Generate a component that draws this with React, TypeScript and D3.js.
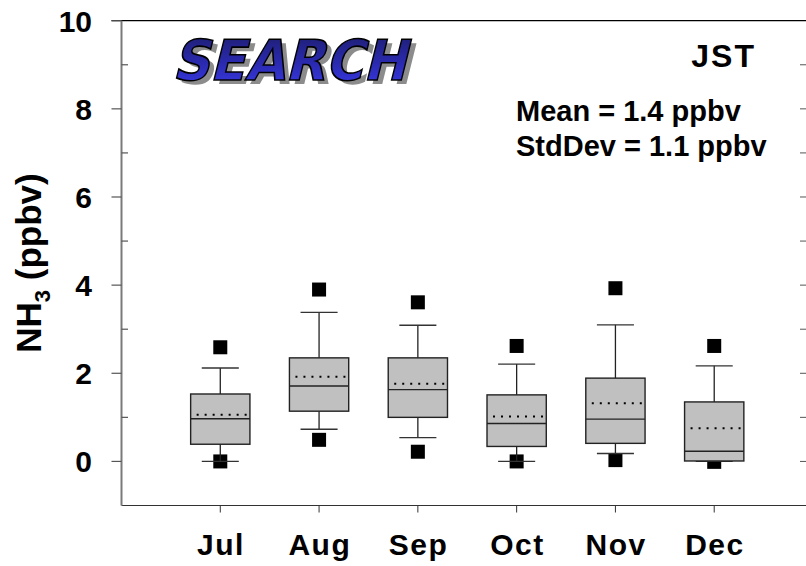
import { useEffect, useRef } from "react";
import * as d3 from "d3";

// monthly NH3 box statistics (ppbv)
const months = ["Jul", "Aug", "Sep", "Oct", "Nov", "Dec"];
const whiskerHigh = [2.12, 3.38, 3.09, 2.21, 3.1, 2.17];
const q3 = [1.53, 2.35, 2.35, 1.51, 1.89, 1.35];
const means = [1.06, 1.92, 1.76, 1.02, 1.32, 0.75];
const medians = [0.97, 1.71, 1.63, 0.86, 0.96, 0.23];
const q1 = [0.39, 1.14, 1.0, 0.34, 0.41, 0.01];
const whiskerLow = [0.0, 0.73, 0.54, 0.0, 0.18, 0.0];
const outlierHigh = [2.59, 3.9, 3.61, 2.62, 3.93, 2.62];
const outlierLow = [0.0, 0.49, 0.22, 0.0, 0.03, -0.01];

const yTicks = [0, 2, 4, 6, 8, 10];
const yMinor = [1, 3, 5, 7, 9];

const FONT = "'Liberation Sans', Arial, sans-serif";

export default function App() {
  const svgRef = useRef<SVGSVGElement | null>(null);

  useEffect(() => {
    if (!svgRef.current) return;
    const svg = d3.select(svgRef.current);
    svg.selectAll("*").remove();

    const x = d3.scaleLinear().domain([0, 7]).range([121.5, 813]);
    const y = d3.scaleLinear().domain([-1, 10]).range([505.5, 20.7]);
    const ux = x(1) - x(0);
    const boxW = ux * 0.6;
    const capW = ux * 0.375;
    const sq = 14;

    const data = months.map((m, i) => ({
      m,
      i: i + 1,
      hi: whiskerHigh[i],
      q3: q3[i],
      mean: means[i],
      med: medians[i],
      q1: q1[i],
      lo: whiskerLow[i],
      oHi: outlierHigh[i],
      oLo: outlierLow[i],
    }));

    // frame: top border, right axis (off canvas), bottom axis
    svg
      .append("line")
      .attr("x1", x(0) - 10)
      .attr("x2", x(7))
      .attr("y1", y(10))
      .attr("y2", y(10))
      .attr("stroke", "#000")
      .attr("stroke-width", 1.2);

    svg
      .append("line")
      .attr("x1", x(0))
      .attr("x2", x(7))
      .attr("y1", y(-1))
      .attr("y2", y(-1))
      .attr("stroke", "#333")
      .attr("stroke-width", 1.2);

    svg
      .append("line")
      .attr("x1", x(7))
      .attr("x2", x(7))
      .attr("y1", y(10))
      .attr("y2", y(-1))
      .attr("stroke", "#555")
      .attr("stroke-width", 1.5);

    svg
      .append("g")
      .selectAll("line")
      .data(d3.range(0, 10))
      .enter()
      .append("line")
      .attr("x1", x(7) - 13)
      .attr("x2", x(7))
      .attr("y1", (d) => y(d))
      .attr("y2", (d) => y(d))
      .attr("stroke", "#555")
      .attr("stroke-width", 1);

    // left axis
    const left = svg.append("g");
    left
      .append("line")
      .attr("x1", x(0))
      .attr("x2", x(0))
      .attr("y1", y(10))
      .attr("y2", y(-1))
      .attr("stroke", "#7a7a7a")
      .attr("stroke-width", 2);

    left
      .selectAll(".major")
      .data(yTicks)
      .enter()
      .append("line")
      .attr("x1", x(0) - 10)
      .attr("x2", x(0))
      .attr("y1", (d) => y(d))
      .attr("y2", (d) => y(d))
      .attr("stroke", "#555")
      .attr("stroke-width", 1.2);

    left
      .selectAll(".minor")
      .data(yMinor)
      .enter()
      .append("line")
      .attr("x1", x(0))
      .attr("x2", x(0) + 6.5)
      .attr("y1", (d) => y(d))
      .attr("y2", (d) => y(d))
      .attr("stroke", "#555")
      .attr("stroke-width", 1.2);

    left
      .selectAll("text")
      .data(yTicks)
      .enter()
      .append("text")
      .attr("x", 92)
      .attr("y", (d) => y(d))
      .attr("dy", "0.36em")
      .attr("text-anchor", "end")
      .attr("font-family", FONT)
      .attr("font-weight", "bold")
      .attr("font-size", 30)
      .text((d) => d);

    // bottom ticks + month labels
    const bottom = svg.append("g");
    bottom
      .selectAll("line")
      .data(data)
      .enter()
      .append("line")
      .attr("x1", (d) => x(d.i))
      .attr("x2", (d) => x(d.i))
      .attr("y1", y(-1))
      .attr("y2", y(-1) + 7)
      .attr("stroke", "#333")
      .attr("stroke-width", 1);

    bottom
      .selectAll("text")
      .data(data)
      .enter()
      .append("text")
      .attr("x", (d) => x(d.i) + 0.75)
      .attr("y", 555)
      .attr("text-anchor", "middle")
      .attr("font-family", FONT)
      .attr("font-weight", "bold")
      .attr("font-size", 30)
      .attr("letter-spacing", 1.5)
      .text((d) => d.m);

    // outliers first (boxes drawn over them)
    const marks = svg.append("g");
    marks
      .selectAll(".oh")
      .data(data)
      .enter()
      .append("rect")
      .attr("x", (d) => x(d.i) - sq / 2)
      .attr("y", (d) => y(d.oHi) - sq / 2)
      .attr("width", sq)
      .attr("height", sq)
      .attr("fill", "#000");

    marks
      .selectAll(".ol")
      .data(data)
      .enter()
      .append("rect")
      .attr("x", (d) => x(d.i) - sq / 2)
      .attr("y", (d) => y(d.oLo) - sq / 2)
      .attr("width", sq)
      .attr("height", sq)
      .attr("fill", "#000");

    const box = svg
      .append("g")
      .selectAll("g")
      .data(data)
      .enter()
      .append("g");

    // whiskers
    box
      .append("line")
      .attr("x1", (d) => x(d.i))
      .attr("x2", (d) => x(d.i))
      .attr("y1", (d) => y(d.q3))
      .attr("y2", (d) => y(d.hi))
      .attr("stroke", "#222")
      .attr("stroke-width", 1.3);
    box
      .append("line")
      .attr("x1", (d) => x(d.i))
      .attr("x2", (d) => x(d.i))
      .attr("y1", (d) => y(d.q1))
      .attr("y2", (d) => y(d.lo))
      .attr("stroke", "#222")
      .attr("stroke-width", 1.3);
    box
      .append("line")
      .attr("x1", (d) => x(d.i) - capW / 2)
      .attr("x2", (d) => x(d.i) + capW / 2)
      .attr("y1", (d) => y(d.hi))
      .attr("y2", (d) => y(d.hi))
      .attr("stroke", "#333")
      .attr("stroke-width", 1.3);
    box
      .append("line")
      .attr("x1", (d) => x(d.i) - capW / 2)
      .attr("x2", (d) => x(d.i) + capW / 2)
      .attr("y1", (d) => y(d.lo))
      .attr("y2", (d) => y(d.lo))
      .attr("stroke", "#333")
      .attr("stroke-width", 1.3);

    box
      .append("rect")
      .attr("x", (d) => x(d.i) - boxW / 2)
      .attr("y", (d) => y(d.q3))
      .attr("width", boxW)
      .attr("height", (d) => y(d.q1) - y(d.q3))
      .attr("fill", "#c0c0c0")
      .attr("stroke", "#222")
      .attr("stroke-width", 1.4);

    box
      .append("line")
      .attr("x1", (d) => x(d.i) - boxW / 2)
      .attr("x2", (d) => x(d.i) + boxW / 2)
      .attr("y1", (d) => y(d.med))
      .attr("y2", (d) => y(d.med))
      .attr("stroke", "#222")
      .attr("stroke-width", 1.4);

    box
      .append("line")
      .attr("x1", (d) => x(d.i) - boxW / 2)
      .attr("x2", (d) => x(d.i) + boxW / 2)
      .attr("y1", (d) => y(d.mean))
      .attr("y2", (d) => y(d.mean))
      .attr("stroke", "#000")
      .attr("stroke-width", 2)
      .attr("stroke-dasharray", "2 6")
      .attr("stroke-dashoffset", 2);

    // y axis title
    const title = svg
      .append("text")
      .attr("transform", "translate(41,263) rotate(-90)")
      .attr("text-anchor", "middle")
      .attr("font-family", FONT)
      .attr("font-weight", "bold")
      .attr("font-size", 35);
    title.append("tspan").text("NH");
    title.append("tspan").attr("font-size", 22).attr("dy", 9).text("3");
    title.append("tspan").attr("dy", -9).text(" (ppbv)");

    // annotation text
    svg
      .append("text")
      .attr("x", 756)
      .attr("y", 67)
      .attr("text-anchor", "end")
      .attr("font-family", FONT)
      .attr("font-weight", "bold")
      .attr("font-size", 32)
      .attr("letter-spacing", 2)
      .text("JST");
    svg
      .append("text")
      .attr("x", 516)
      .attr("y", 121)
      .attr("font-family", FONT)
      .attr("font-weight", "bold")
      .attr("font-size", 29)
      .text("Mean = 1.4 ppbv");
    svg
      .append("text")
      .attr("x", 516)
      .attr("y", 156)
      .attr("font-family", FONT)
      .attr("font-weight", "bold")
      .attr("font-size", 29)
      .text("StdDev = 1.1 ppbv");

    // SEARCH logo
    const defs = svg.append("defs");
    const grad = defs
      .append("linearGradient")
      .attr("id", "logoGrad")
      .attr("x1", 0)
      .attr("y1", 0)
      .attr("x2", 0)
      .attr("y2", 1);
    grad.append("stop").attr("offset", "0%").attr("stop-color", "#1c1c66");
    grad.append("stop").attr("offset", "55%").attr("stop-color", "#2a2ab0");
    grad.append("stop").attr("offset", "100%").attr("stop-color", "#3c3cf0");

    const logo = svg.append("g").attr("transform", "translate(160,80) skewX(-14)");
    logo
      .append("text")
      .attr("x", 18)
      .attr("y", 4)
      .attr("font-family", "'DejaVu Sans', sans-serif")
      .attr("font-weight", "bold")
      .attr("font-size", 56)
      .attr("textLength", 234)
      .attr("lengthAdjust", "spacingAndGlyphs")
      .attr("fill", "#8c8c8c")
      .text("SEARCH");
    logo
      .append("text")
      .attr("x", 12)
      .attr("y", 0)
      .attr("font-family", "'DejaVu Sans', sans-serif")
      .attr("font-weight", "bold")
      .attr("font-size", 56)
      .attr("textLength", 234)
      .attr("lengthAdjust", "spacingAndGlyphs")
      .attr("fill", "url(#logoGrad)")
      .attr("stroke", "#000")
      .attr("stroke-width", 1.6)
      .text("SEARCH");
  }, []);

  return (
    <svg
      ref={svgRef}
      width={806}
      height={566}
      style={{ position: "absolute", left: 0, top: 0, background: "#fff" }}
    ></svg>
  );
}
